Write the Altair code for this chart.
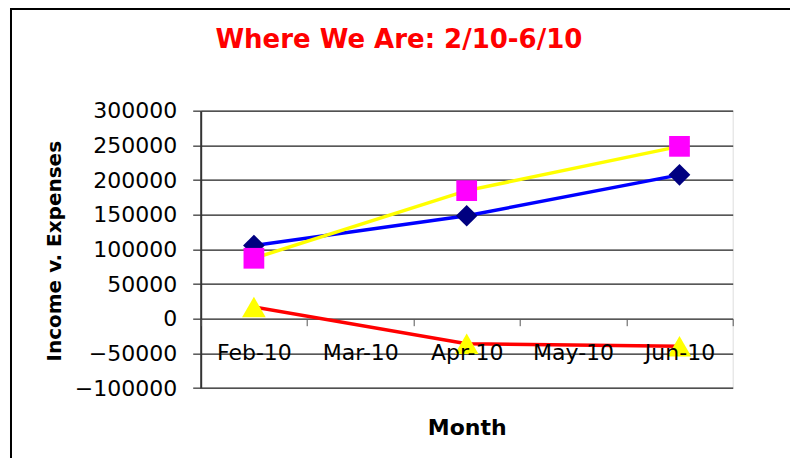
import altair as alt
import pandas as pd

# ---- data ----
months = ["Feb-10", "Mar-10", "Apr-10", "May-10", "Jun-10"]
data_months = ["Feb-10", "Apr-10", "Jun-10"]
series_names = ["Income", "Expenses", "Net"]
income = [105500, 148500, 207500]
expenses = [87200, 184700, 248600]
net = [17000, -36000, -39500]
y_ticks = [-100000, -50000, 0, 50000, 100000, 150000, 200000, 250000, 300000]

# styles per series (kept apart from the data)
line_colors = ["#0000FF", "#FFFF00", "#FF0000"]
marker_shapes = ["diamond", "square", "triangle-up"]
marker_fills = ["#000080", "#FF00FF", "#FFFF00"]
marker_sizes = [470, 430, 560]

rows = []
for name, vals in zip(series_names, [income, expenses, net]):
    for i, (m, v) in enumerate(zip(data_months, vals)):
        rows.append({"Month": m, "Value": v, "Series": name, "idx": i})
df = pd.DataFrame(rows)

W, H = 532, 277.4
FONT = "DejaVu Sans"

x_enc = alt.X(
    "Month:N",
    scale=alt.Scale(type="band", domain=months, paddingInner=0, paddingOuter=0),
    axis=alt.Axis(
        title="Month", orient="bottom", offset=-69.4, tickBand="extent", labelAngle=0,
        labelFontSize=22, labelColor="black", labelPadding=17, labelBaseline="top",
        tickSize=7, tickColor="#555555", tickWidth=1, domain=False, grid=False, zindex=1,
        titleFontSize=22, titleFontWeight="bold", titleColor="black",
        titleX=W / 2, titleY=116.3, titleBaseline="alphabetic", titleAlign="center",
        labelOverlap=False, labelFont=FONT, titleFont=FONT,
    ),
)
y_enc = alt.Y(
    "Value:Q",
    scale=alt.Scale(domain=[-100000, 300000], nice=False, zero=False),
    axis=alt.Axis(
        title="Income v. Expenses", values=y_ticks, format="d",
        grid=True, gridColor="#202020", gridWidth=1.2, gridOpacity=1,
        domain=True, domainColor="#333333", domainWidth=2,
        tickSize=8, tickColor="#555555", tickWidth=1.5,
        labelFontSize=22, labelColor="black", labelPadding=16, labelFont=FONT,
        titleFontSize=20, titleFontWeight="bold", titleColor="black", titleFont=FONT,
        titleAngle=270, titleX=-140.2, titleY=140, titleAlign="center",
        titleBaseline="alphabetic",
    ),
)

lines = alt.Chart(df).mark_line(strokeWidth=3.5).encode(
    x=x_enc,
    y=y_enc,
    color=alt.Color("Series:N", scale=alt.Scale(domain=series_names, range=line_colors),
                    legend=None),
    order=alt.Order("idx:Q"),
)

point_layers = []
for name, shp, fil, sz in zip(series_names, marker_shapes, marker_fills, marker_sizes):
    point_layers.append(
        alt.Chart(df).transform_filter(alt.datum.Series == name)
        .mark_point(filled=True, opacity=1, strokeWidth=0, shape=shp, fill=fil, size=sz)
        .encode(x=x_enc, y=y_enc)
    )

frame_data = alt.Data(values=[{"k": 1}])
left_border = alt.Chart(frame_data).mark_rule(color="black", strokeWidth=2).encode(
    x=alt.value(-189.7), y=alt.value(-102.7), y2=alt.value(H + 80)
)
top_border = alt.Chart(frame_data).mark_rule(color="black", strokeWidth=2).encode(
    x=alt.value(-190.7), x2=alt.value(W + 60), y=alt.value(-101.7)
)

chart = alt.layer(lines, *point_layers, left_border, top_border).properties(
    width=W,
    height=H,
    title=alt.TitleParams(
        "Where We Are: 2/10-6/10", fontSize=26, font=FONT, fontWeight="bold",
        color="#FF0000", anchor="middle", frame="group", dx=-67.8, dy=67.4, offset=0,
        baseline="alphabetic",
    ),
    padding={"left": 192.7, "top": 102.7, "right": 57, "bottom": 70},
    autosize=alt.AutoSizeParams(type="none"),
    background="white",
).configure_view(
    fill="#C0C0C0", stroke="#808080", strokeWidth=2
).configure(font=FONT)

chart.save("out.html", embed_options={"renderer": "svg", "actions": False})
